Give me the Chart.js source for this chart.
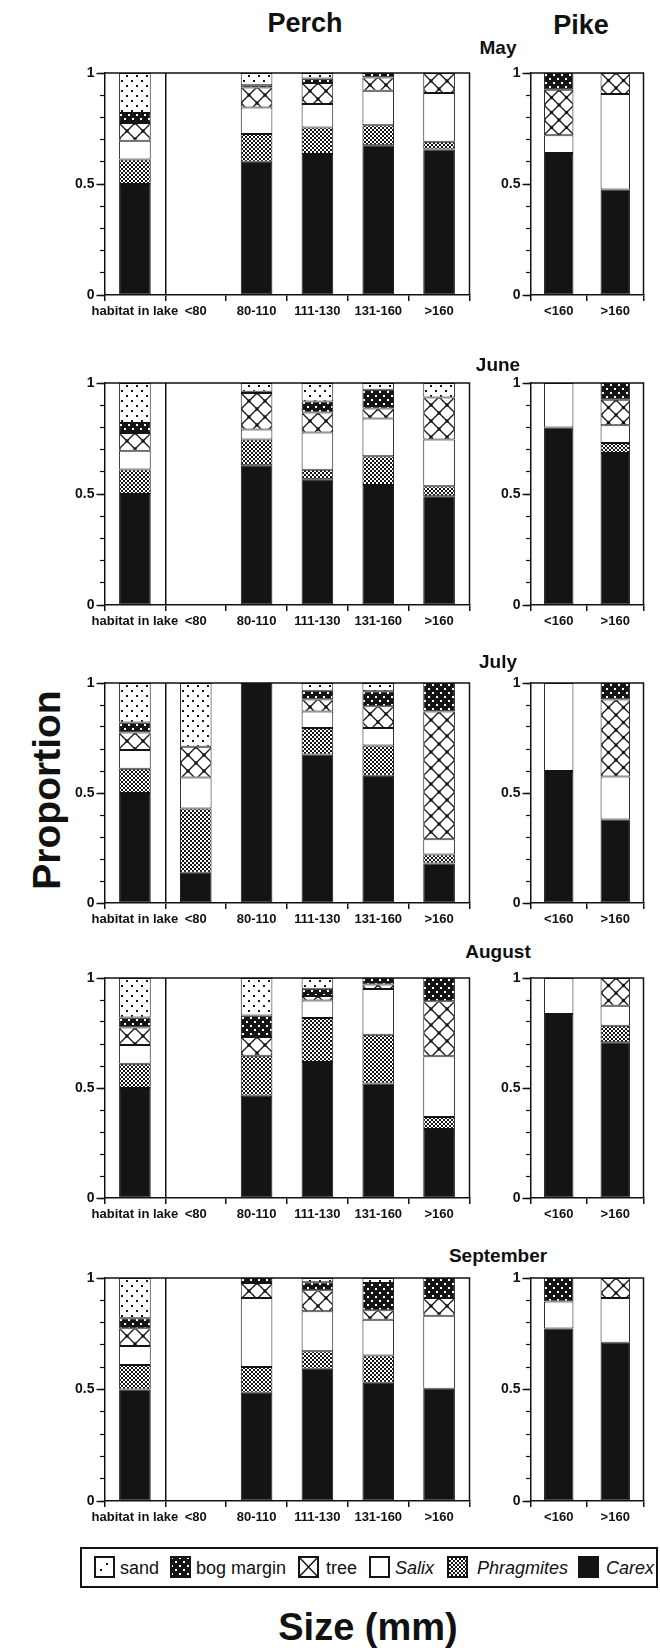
<!DOCTYPE html>
<html>
<head>
<meta charset="utf-8">
<script src="https://cdn.jsdelivr.net/npm/chart.js@4.4.1/dist/chart.umd.min.js"></script>
<style>
  html, body { margin: 0; padding: 0; background: #fff; }
  #page { position: relative; width: 660px; height: 1650px; overflow: hidden;
          font-family: "Liberation Sans", Arial, Helvetica, sans-serif; color: #111; }
  #page canvas { position: absolute; }
  .t { position: absolute; transform: translate(-50%, -50%); white-space: nowrap; font-weight: bold; line-height: 1; }
  #legend { position: absolute; left: 80px; top: 1547px; width: 578px; height: 41px;
            border: 2px solid #111; box-sizing: border-box; }
  .sw { position: absolute; top: 7px; }
  .lt { position: absolute; top: 8px; font-size: 18px; line-height: 22px; white-space: nowrap; }
</style>
</head>
<body>
<div id="page">
  <div class="t" style="left:305px; top:23px; font-size:27px;">Perch</div>
  <div class="t" style="left:581px; top:25px; font-size:27px;">Pike</div>
  <div class="t" style="left:46px; top:790px; font-size:39px; transform: translate(-50%, -50%) rotate(-90deg);">Proportion</div>
  <div class="t" style="left:368px; top:1627px; font-size:38px;">Size (mm)</div>
  <div id="legend"></div>
</div>
<script>
// Habitat classes, bottom of each stack first
const habitatNames = ['Carex', 'Phragmites', 'Salix', 'tree', 'bog margin', 'sand'];
const perchSizes = ['habitat in lake', '<80', '80-110', '111-130', '131-160', '>160'];
const pikeSizes = ['<160', '>160'];
const months = ['May', 'June', 'July', 'August', 'September'];
const yTickLabels = ['0', '0.5', '1'];

// Proportion of each habitat per size class (rows follow habitatNames)
const perchMay = [
  [0.50, 0, 0.600, 0.635, 0.675, 0.655],
  [0.11, 0, 0.125, 0.120, 0.090, 0.035],
  [0.085, 0, 0.120, 0.105, 0.155, 0.220],
  [0.08, 0, 0.090, 0.095, 0.060, 0.090],
  [0.045, 0, 0.010, 0.020, 0.020, 0],
  [0.18, 0, 0.055, 0.025, 0, 0]
];
const pikeMay = [
  [0.640, 0.475],
  [0, 0],
  [0.080, 0.430],
  [0.205, 0.095],
  [0.075, 0],
  [0, 0]
];
const perchJune = [
  [0.50, 0, 0.630, 0.567, 0.540, 0.490],
  [0.11, 0, 0.115, 0.042, 0.130, 0.045],
  [0.085, 0, 0.045, 0.168, 0.170, 0.210],
  [0.08, 0, 0.165, 0.090, 0.045, 0.190],
  [0.045, 0, 0.006, 0.050, 0.085, 0],
  [0.18, 0, 0.039, 0.083, 0.030, 0.065]
];
const pikeJune = [
  [0.800, 0.685],
  [0, 0.045],
  [0.200, 0.080],
  [0, 0.115],
  [0, 0.075],
  [0, 0]
];
const perchJuly = [
  [0.50, 0.137, 1.0, 0.675, 0.578, 0.180],
  [0.11, 0.293, 0, 0.120, 0.138, 0.040],
  [0.085, 0.140, 0, 0.075, 0.080, 0.070],
  [0.08, 0.140, 0, 0.055, 0.098, 0.580],
  [0.045, 0, 0, 0.040, 0.068, 0.130],
  [0.18, 0.290, 0, 0.035, 0.038, 0]
];
const pikeJuly = [
  [0.600, 0.380],
  [0, 0],
  [0.400, 0.195],
  [0, 0.350],
  [0, 0.075],
  [0, 0]
];
const perchAugust = [
  [0.50, 0, 0.465, 0.618, 0.520, 0.314],
  [0.11, 0, 0.182, 0.200, 0.222, 0.054],
  [0.085, 0, 0, 0.080, 0.208, 0.276],
  [0.08, 0, 0.085, 0.020, 0.020, 0.250],
  [0.045, 0, 0.097, 0.033, 0.030, 0.106],
  [0.18, 0, 0.171, 0.049, 0, 0]
];
const pikeAugust = [
  [0.836, 0.708],
  [0, 0.075],
  [0.164, 0.091],
  [0, 0.126],
  [0, 0],
  [0, 0]
];
const perchSeptember = [
  [0.50, 0, 0.485, 0.593, 0.530, 0.503],
  [0.11, 0, 0.116, 0.079, 0.122, 0],
  [0.085, 0, 0.309, 0.179, 0.161, 0.328],
  [0.08, 0, 0.068, 0.094, 0.042, 0.079],
  [0.045, 0, 0.022, 0.036, 0.123, 0.090],
  [0.18, 0, 0, 0.019, 0.022, 0]
];
const pikeSeptember = [
  [0.774, 0.710],
  [0, 0],
  [0.121, 0.200],
  [0, 0.090],
  [0.105, 0],
  [0, 0]
];

const perchByMonth = [perchMay, perchJune, perchJuly, perchAugust, perchSeptember];
const pikeByMonth = [pikeMay, pikeJune, pikeJuly, pikeAugust, pikeSeptember];

// ---- page layout ----
const ROW_TOP = [73, 383, 683, 978, 1278];
const ROW_BOTTOM = [295, 605, 903, 1198, 1501];
const MONTH_Y = [47, 364, 661, 951, 1255];
const MONTH_X = 498;
const PAD_TOP = 12, X_AXIS_H = 34;
const BAR_PCT = 0.52;
const INK = '#141414';
const FILL_KIND = ['carex', 'phrag', 'salix', 'tree', 'bog', 'sand'];
const ITALIC = [true, true, true, false, false, false];

Chart.defaults.font.family = '"Liberation Sans", Arial, Helvetica, sans-serif';
Chart.defaults.font.size = 14;
Chart.defaults.font.weight = 'bold';
Chart.defaults.color = '#111';

// ---- hatch tiles ----
const tileCache = {};
function makeTile(w, h, draw) {
  const cv = document.createElement('canvas');
  cv.width = w; cv.height = h;
  draw(cv.getContext('2d'), w, h);
  return cv;
}
function getTile(kind, size) {
  const key = kind + ':' + size;
  if (tileCache[key]) return tileCache[key];
  let t;
  if (kind === 'sand') {
    t = makeTile(10, 10, (g) => {
      g.fillStyle = '#fff'; g.fillRect(0, 0, 10, 10);
      g.fillStyle = INK; g.fillRect(2, 7, 2, 2); g.fillRect(7, 2, 2, 2);
    });
  } else if (kind === 'bog') {
    t = makeTile(8, 8, (g) => {
      g.fillStyle = INK; g.fillRect(0, 0, 8, 8);
      g.fillStyle = '#fff'; g.fillRect(1, 1, 2, 2); g.fillRect(5, 5, 2, 2);
    });
  } else if (kind === 'phrag') {
    t = makeTile(4, 4, (g) => {
      g.fillStyle = INK; g.fillRect(0, 0, 4, 4);
      g.fillStyle = '#fff'; g.fillRect(0, 0, 2, 2); g.fillRect(2, 2, 2, 2);
    });
  } else { // tree: diagonal cross-hatch with knots at the crossings
    const s = size;
    t = makeTile(s, s, (g) => {
      g.fillStyle = '#fff'; g.fillRect(0, 0, s, s);
      g.strokeStyle = INK; g.lineWidth = 1.3;
      g.beginPath();
      g.moveTo(0, 0); g.lineTo(s, s);
      g.moveTo(s, 0); g.lineTo(0, s);
      g.stroke();
      g.fillStyle = INK;
      [[s / 2, s / 2], [0, 0], [s, 0], [0, s], [s, s]].forEach(([x, y]) => {
        g.beginPath(); g.arc(x, y, 1.7, 0, Math.PI * 2); g.fill();
      });
    });
  }
  tileCache[key] = t;
  return t;
}

// Fill for one stacked segment; hatching is anchored at the segment's top-left corner
function segmentFill(kind, c) {
  if (kind === 'carex') return INK;
  if (kind === 'salix') return '#fff';
  const chart = c.chart;
  const xs = chart.scales && chart.scales.x;
  const ys = chart.scales && chart.scales.y;
  let left = 0, top = 0, treeSize = 15;
  if (c.type === 'data' && xs && ys && xs.width > 0) {
    const bw = xs.width / chart.data.labels.length * BAR_PCT;
    left = Math.round(xs.getPixelForValue(c.dataIndex) - bw / 2);
    let cum = 0;
    for (let d = 0; d <= c.datasetIndex; d++) cum += chart.data.datasets[d].data[c.dataIndex] || 0;
    top = Math.round(ys.getPixelForValue(cum));
    treeSize = Math.max(8, Math.round(bw / 2));
  }
  const pat = chart.ctx.createPattern(getTile(kind, treeSize), 'repeat');
  pat.setTransform(new DOMMatrix().translate(left, top));
  return pat;
}

// Top and right edges of the plot frame
const framePlugin = {
  id: 'frame',
  afterDatasetsDraw(chart) {
    const { ctx, chartArea: a } = chart;
    ctx.save();
    ctx.strokeStyle = '#111';
    ctx.lineWidth = 1.5;
    ctx.beginPath();
    ctx.moveTo(a.left, a.top);
    ctx.lineTo(a.right, a.top);
    ctx.lineTo(a.right, a.bottom);
    ctx.stroke();
    ctx.restore();
  }
};

function panel(cfg) {
  const page = document.getElementById('page');
  const cv = document.createElement('canvas');
  const h = cfg.bottom - cfg.top + PAD_TOP + X_AXIS_H;
  cv.width = cfg.width; cv.height = h;
  cv.style.left = cfg.left + 'px';
  cv.style.top = (cfg.top - PAD_TOP) + 'px';
  page.appendChild(cv);

  const datasets = habitatNames.map((name, k) => ({
    label: name,
    data: cfg.rows[k].map((v) => (v > 0 ? v : null)),
    backgroundColor: (c) => segmentFill(FILL_KIND[k], c),
    borderColor: INK,
    borderWidth: 1,
    borderSkipped: false,
    barPercentage: BAR_PCT,
    categoryPercentage: 1
  }));

  new Chart(cv, {
    type: 'bar',
    data: { labels: cfg.labels, datasets },
    plugins: [framePlugin],
    options: {
      responsive: false,
      animation: false,
      events: [],
      layout: { padding: { top: PAD_TOP, right: cfg.padRight, left: 0, bottom: 0 } },
      plugins: { legend: { display: false }, tooltip: { enabled: false }, title: { display: false } },
      scales: {
        x: {
          stacked: true,
          offset: true,
          grid: {
            offset: true,
            drawOnChartArea: true,
            color: (c) => (cfg.separator && c.index === 1 ? '#111' : 'rgba(0,0,0,0)'),
            lineWidth: 1.5,
            tickColor: '#111',
            tickLength: 6,
            tickWidth: 1.5
          },
          border: { color: '#111', width: 1.5 },
          ticks: { color: '#111', padding: 3, maxRotation: 0, autoSkip: false,
                   font: { size: 13, weight: 'bold' } },
          afterFit: (s) => { s.height = X_AXIS_H; }
        },
        y: {
          stacked: true,
          min: 0, max: 1,
          weight: 1,
          ticks: { stepSize: 0.5, padding: 2, color: '#111',
                   callback: (v) => yTickLabels[Math.round(v * 2)] },
          grid: { drawOnChartArea: false, color: '#111', tickLength: 8, tickWidth: 1.5 },
          border: { color: '#111', width: 1.5 },
          afterFit: (s) => { s.width = cfg.yAxisW; }
        },
        yMinor: {
          type: 'linear',
          axis: 'y',
          position: 'left',
          min: 0, max: 1,
          weight: 0,
          ticks: { display: false, stepSize: 0.1 },
          grid: { drawOnChartArea: false, color: '#111', tickLength: 4.5, tickWidth: 1.2 },
          border: { display: false },
          afterFit: (s) => { s.width = 0; }
        }
      }
    }
  });
}

months.forEach((m, i) => {
  panel({ left: 46, width: 434, yAxisW: 58.5, padRight: 10.5,
          top: ROW_TOP[i], bottom: ROW_BOTTOM[i], labels: perchSizes,
          rows: perchByMonth[i], separator: true });
  panel({ left: 482, width: 178, yAxisW: 48.5, padRight: 16.5,
          top: ROW_TOP[i], bottom: ROW_BOTTOM[i], labels: pikeSizes,
          rows: pikeByMonth[i], separator: false });
  const d = document.createElement('div');
  d.className = 't';
  d.style.left = MONTH_X + 'px';
  d.style.top = MONTH_Y[i] + 'px';
  d.style.fontSize = '19px';
  d.textContent = m;
  document.getElementById('page').appendChild(d);
});

// ---- legend (top of stack first) ----
const LEGEND_POS = [
  { sw: 12, tx: 38 },   // sand
  { sw: 88, tx: 114 },  // bog margin
  { sw: 216, tx: 244 }, // tree
  { sw: 287, tx: 313 }, // Salix
  { sw: 365, tx: 395 }, // Phragmites
  { sw: 496, tx: 524 }  // Carex
];
const legend = document.getElementById('legend');
[5, 4, 3, 2, 1, 0].forEach((k, j) => {
  const pos = LEGEND_POS[j];
  const sw = document.createElement('canvas');
  sw.width = 21; sw.height = 22;
  sw.className = 'sw';
  sw.style.left = pos.sw + 'px';
  const g = sw.getContext('2d');
  const kind = FILL_KIND[k];
  if (kind === 'carex') { g.fillStyle = INK; g.fillRect(0, 0, 21, 22); }
  else if (kind === 'salix') { g.fillStyle = '#fff'; g.fillRect(0, 0, 21, 22); }
  else if (kind === 'tree') {
    g.fillStyle = '#fff'; g.fillRect(0, 0, 21, 22);
    g.strokeStyle = INK; g.lineWidth = 1.5;
    g.beginPath(); g.moveTo(0, 0); g.lineTo(21, 22); g.moveTo(21, 0); g.lineTo(0, 22); g.stroke();
  } else if (kind === 'sand') {
    g.fillStyle = '#fff'; g.fillRect(0, 0, 21, 22);
    g.fillStyle = INK; g.fillRect(6, 13, 2, 2); g.fillRect(12, 7, 2, 2);
  } else {
    g.fillStyle = g.createPattern(getTile(kind, 15), 'repeat'); g.fillRect(0, 0, 21, 22);
  }
  g.strokeStyle = INK; g.lineWidth = 2; g.strokeRect(1, 1, 19, 20);
  legend.appendChild(sw);
  const t = document.createElement('div');
  t.className = 'lt';
  t.style.left = pos.tx + 'px';
  t.style.fontStyle = ITALIC[k] ? 'italic' : 'normal';
  t.textContent = habitatNames[k];
  legend.appendChild(t);
});
</script>
</body>
</html>
